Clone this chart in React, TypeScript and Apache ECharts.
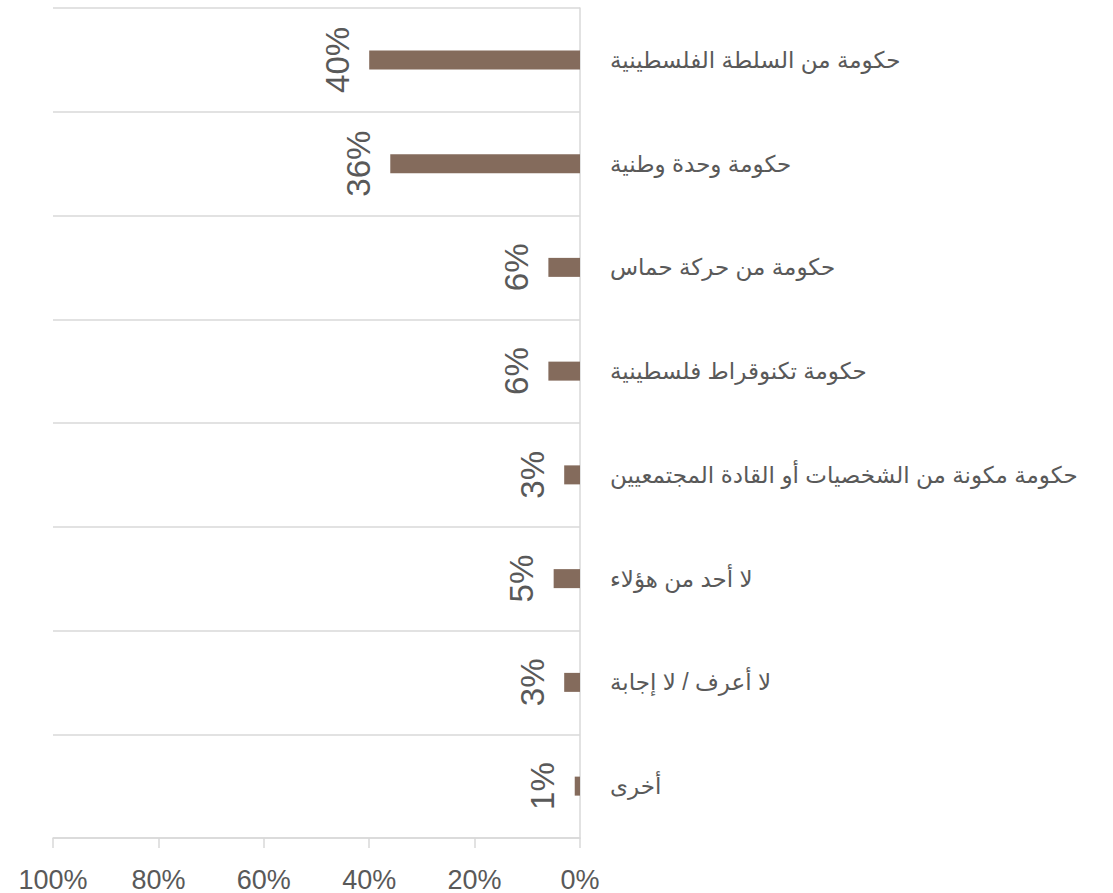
import React, { useEffect, useRef } from "react";
import * as echarts from "echarts";

const categories = [
  "حكومة من السلطة الفلسطينية",
  "حكومة وحدة وطنية",
  "حكومة من حركة حماس",
  "حكومة تكنوقراط فلسطينية",
  "حكومة مكونة من الشخصيات أو القادة المجتمعيين",
  "لا أحد من هؤلاء",
  "لا أعرف / لا إجابة",
  "أخرى",
];
const values = [40, 36, 6, 6, 3, 5, 3, 1];
const xTicks = [0, 20, 40, 60, 80, 100];

const FONT = "'Liberation Sans', Arial, 'DejaVu Sans', sans-serif";
const TEXT = "#595959";
const LINE = "#d9d9d9";

export default function App() {
  const ref = useRef<HTMLDivElement>(null);
  useEffect(() => {
    if (!ref.current) return;
    const chart = echarts.init(ref.current, null, { renderer: "svg" });
    chart.setOption({
      animation: false,
      backgroundColor: "#ffffff",
      grid: { left: 53, right: 533, top: 8, bottom: 55, containLabel: false },
      xAxis: {
        type: "value",
        inverse: true,
        min: xTicks[0],
        max: xTicks[xTicks.length - 1],
        interval: 20,
        axisLine: { show: true, lineStyle: { color: LINE, width: 1.5 } },
        axisTick: { show: true, length: 10, lineStyle: { color: LINE, width: 1.5 } },
        splitLine: { show: false },
        axisLabel: {
          formatter: "{value}%",
          color: TEXT,
          fontSize: 27,
          fontFamily: FONT,
          margin: 28,
        },
      },
      yAxis: {
        type: "category",
        data: categories,
        inverse: true,
        position: "right",
        axisLine: { show: true, lineStyle: { color: LINE, width: 1.5 } },
        axisTick: { show: false },
        splitLine: { show: true, lineStyle: { color: LINE, width: 1.5 } },
        axisLabel: {
          color: TEXT,
          fontSize: 23,
          fontFamily: FONT,
          margin: 30,
          align: "left",
        },
      },
      series: [
        {
          type: "bar",
          data: values,
          barWidth: 19,
          itemStyle: { color: "#846B5C" },
          label: {
            show: true,
            position: "left",
            distance: 32,
            rotate: 90,
            align: "center",
            verticalAlign: "middle",
            formatter: "{c}%",
            color: TEXT,
            fontSize: 33,
            fontFamily: FONT,
          },
        },
      ],
    });
    return () => chart.dispose();
  }, []);
  return (
    <div
      ref={ref}
      style={{ position: "fixed", left: 0, top: 0, width: 1113, height: 893 }}
    />
  );
}
